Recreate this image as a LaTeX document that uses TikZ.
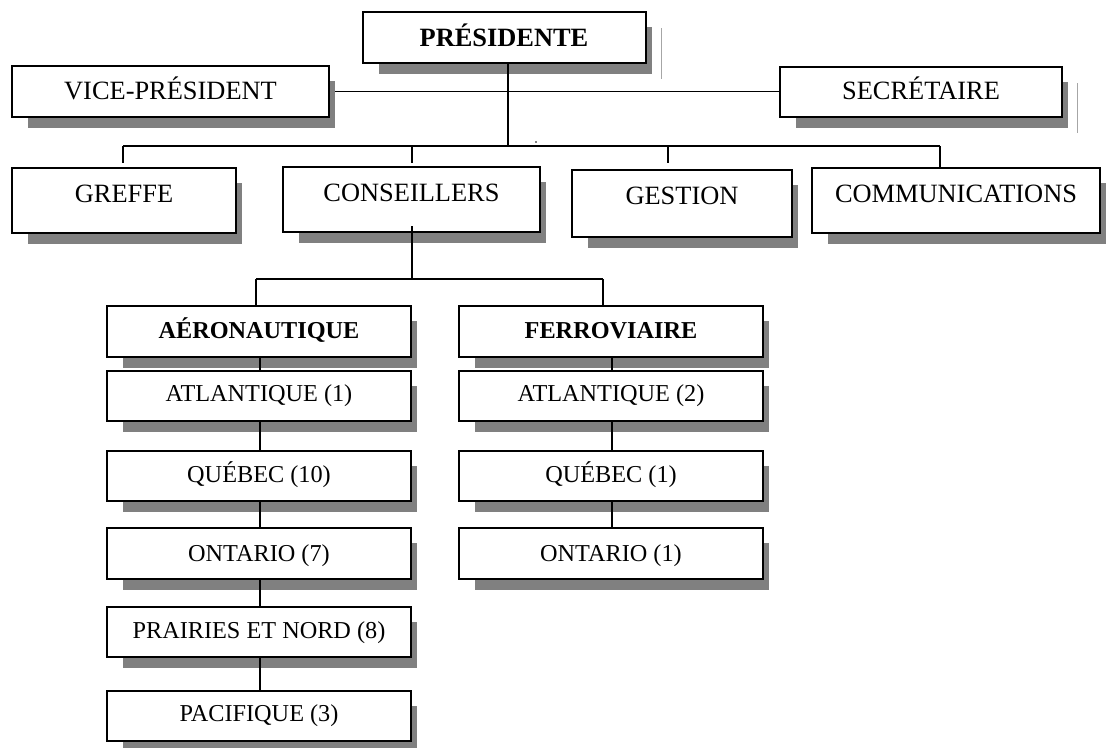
\documentclass[tikz,border=0pt]{standalone}
\usepackage{fontspec}
\setmainfont{Liberation Serif}
\definecolor{shadowgray}{HTML}{808080}
\newcommand\orgbox[5]{%
  \fill[shadowgray] (#2+16,#3+15) rectangle (#4+6,#5+11);
  \node[box, minimum width={(#4-#2)*0.75pt}, minimum height={(#5-#3)*0.75pt}] (#1) at ({(#2+#4)/2},{(#3+#5)/2}) {};
}
\begin{document}
\begin{tikzpicture}[x=0.75pt,y=-0.75pt,
  box/.style={draw,line width=1.1pt,fill=white,inner sep=0pt,outer sep=0pt},
  bigtxt/.style={font=\fontsize{19.8}{22}\selectfont,anchor=base,inner sep=0pt},
  smalltxt/.style={font=\fontsize{18.2}{20}\selectfont,anchor=base,inner sep=0pt},
  conn/.style={line width=1pt},
  artifact/.style={line width=0.4pt,draw=gray!70}]
\useasboundingbox[fill=white] (0,0) rectangle (1106,747);

% boxes
\orgbox{pres}{363}{12}{646}{63}
\orgbox{vp}{12}{66}{329}{117}
\orgbox{sec}{780}{67}{1062}{117}
\orgbox{greffe}{12}{168}{236}{233}
\orgbox{cons}{283}{167}{540}{232}
\orgbox{gest}{572}{170}{792}{237}
\orgbox{comm}{812}{168}{1100}{233}
\orgbox{aero}{107}{306}{411}{357}
\orgbox{atlA}{107}{371}{411}{421}
\orgbox{queA}{107}{451}{411}{501}
\orgbox{ontA}{107}{528}{411}{579}
\orgbox{praA}{107}{607}{411}{657}
\orgbox{pacA}{107}{691}{411}{741}
\orgbox{ferro}{459}{306}{763}{357}
\orgbox{atlF}{459}{371}{763}{421}
\orgbox{queF}{459}{451}{763}{501}
\orgbox{ontF}{459}{528}{763}{579}

% shadow artifacts
\draw[artifact] (661,28) -- (661,79);
\draw[artifact] (1077,83) -- (1077,133);

% connector coordinates
\coordinate (top) at (508,146);
\coordinate (busL) at (123,146);
\coordinate (busR) at (940,146);
\coordinate (dCons) at (412,146);
\coordinate (dGest) at (668,146);
\coordinate (c2) at (412,279);
\coordinate (bus2L) at (256,279);
\coordinate (bus2R) at (603,279);
\coordinate (ax) at (260,0);
\coordinate (fx) at (612,0);

% connectors
\draw[conn] (pres.south -| top) -- (top);
\draw[conn] ([xshift=4.5pt]vp.east) -- (vp.east -| sec.west);
\draw[conn] (busL) -- (busR);
\draw[conn,shorten >=3.6pt] (busL) -- (busL |- greffe.north);
\draw[conn,shorten >=3pt] (dCons) -- (dCons |- cons.north);
\draw[conn,shorten >=5.2pt] (dGest) -- (dGest |- gest.north);
\draw[conn] (busR) -- (busR |- comm.north);
\fill (536,142) circle (0.8);

\draw[conn] ([yshift=4.5pt]c2 |- cons.south) -- (c2);
\draw[conn] (bus2L) -- (bus2R);
\draw[conn] (bus2L) -- (bus2L |- aero.north);
\draw[conn] (bus2R) -- (bus2R |- ferro.north);

\draw[conn] (aero.south -| ax) -- (atlA.north -| ax);
\draw[conn] (atlA.south -| ax) -- (queA.north -| ax);
\draw[conn] (queA.south -| ax) -- (ontA.north -| ax);
\draw[conn] (ontA.south -| ax) -- (praA.north -| ax);
\draw[conn] (praA.south -| ax) -- (pacA.north -| ax);
\draw[conn] (ferro.south -| fx) -- (atlF.north -| fx);
\draw[conn] (atlF.south -| fx) -- (queF.north -| fx);
\draw[conn] (queF.south -| fx) -- (ontF.north -| fx);

% texts
\node[bigtxt] (presT) at (504,46) {\bfseries PRÉSIDENTE};
\node[bigtxt] (vpT) at (170.5,99) {VICE-PRÉSIDENT};
\node[bigtxt] (secT) at (921,99) {SECRÉTAIRE};
\node[bigtxt] (greffeT) at (124,202) {GREFFE};
\node[bigtxt] (consT) at (411.5,201) {CONSEILLERS};
\node[bigtxt] (gestT) at (682,204) {GESTION};
\node[bigtxt] (commT) at (956,202) {COMMUNICATIONS};
\node[smalltxt] (aeroT) at (259,338) {\bfseries AÉRONAUTIQUE};
\node[smalltxt] (atlAT) at (259,401) {ATLANTIQUE (1)};
\node[smalltxt] (queAT) at (259,482) {QUÉBEC (10)};
\node[smalltxt] (ontAT) at (259,561) {ONTARIO (7)};
\node[smalltxt] (praAT) at (259,638) {PRAIRIES ET NORD (8)};
\node[smalltxt] (pacAT) at (259,721) {PACIFIQUE (3)};
\node[smalltxt] (ferroT) at (611,338) {\bfseries FERROVIAIRE};
\node[smalltxt] (atlFT) at (611,401) {ATLANTIQUE (2)};
\node[smalltxt] (queFT) at (611,482) {QUÉBEC (1)};
\node[smalltxt] (ontFT) at (611,561) {ONTARIO (1)};
\end{tikzpicture}
\end{document}
